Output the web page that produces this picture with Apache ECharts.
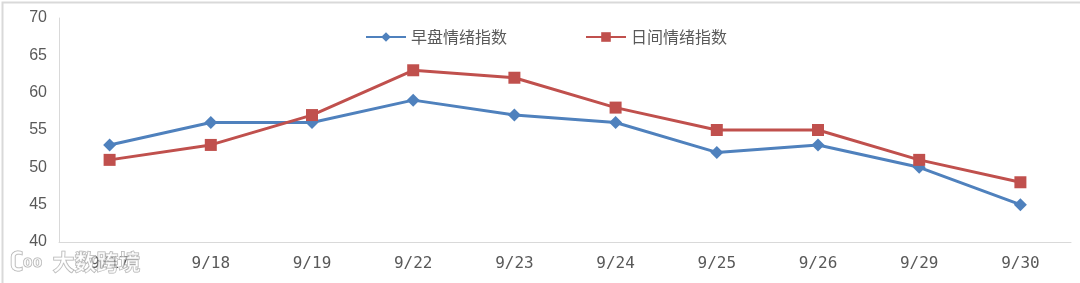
<!DOCTYPE html>
<html><head><meta charset="utf-8">
<script src="https://cdn.jsdelivr.net/npm/echarts@6/dist/echarts.min.js"></script>
<style>html,body{margin:0;padding:0;background:#fff}#c{width:1080px;height:283px}</style>
</head><body><div id="c"></div>
<script>
const categories = ['9/17','9/18','9/19','9/22','9/23','9/24','9/25','9/26','9/29','9/30'];
const morningName = '早盘情绪指数';
const morning = [53,56,56,59,57,56,52,53,50,45];
const dayName = '日间情绪指数';
const day = [51,53,57,63,62,58,55,55,51,48];
const yTicks = {min:40, max:70, interval:5};

const chart = echarts.init(document.getElementById('c'));
const font = '"Microsoft YaHei","Noto Sans CJK SC",sans-serif';
chart.setOption({
  animation:false,
  backgroundColor:'#fff',
  grid:{left:59, right:9, top:18, bottom:41},
  legend:{
    top:24, left:360, itemGap:78, itemWidth:40, itemHeight:12,
    textStyle:{color:'#595959', fontSize:16, fontFamily:font},
    data:[morningName, dayName]
  },
  xAxis:{
    type:'category', data:categories, boundaryGap:true,
    axisLine:{lineStyle:{color:'#d9d9d9', width:1}},
    axisTick:{show:false},
    axisLabel:{color:'#595959', fontSize:16, margin:14, fontFamily:'"DejaVu Sans Mono",monospace'}
  },
  yAxis:{
    type:'value', min:yTicks.min, max:yTicks.max, interval:yTicks.interval,
    axisLine:{show:true, lineStyle:{color:'#d9d9d9', width:1}},
    axisTick:{show:false},
    splitLine:{show:false},
    axisLabel:{color:'#595959', fontSize:16, margin:12, fontFamily:'"Liberation Sans",Arial,sans-serif'}
  },
  series:[
    {name:morningName, type:'line', data:morning, symbol:'diamond', symbolSize:13,
     lineStyle:{color:'#4f81bd', width:3}, itemStyle:{color:'#4f81bd'}},
    {name:dayName, type:'line', data:day, symbol:'rect', symbolSize:12,
     lineStyle:{color:'#c0504d', width:3}, itemStyle:{color:'#c0504d'}}
  ],
  graphic:[
    {type:'rect', left:0, top:0, shape:{width:1079, height:282},
     style:{fill:'none', stroke:'#d9d9d9', lineWidth:2}, silent:true},
    {type:'text', left:52, top:250, z:100,
     style:{text:'大数跨境', fill:'rgba(255,255,255,0.55)', stroke:'rgba(150,150,150,0.8)', lineWidth:1,
            font:'bold 22px "Noto Sans CJK SC",sans-serif'}},
    {type:'text', left:10, top:250, z:100,
     style:{text:'ʗ₀₀', fill:'rgba(255,255,255,0.55)', stroke:'rgba(150,150,150,0.8)', lineWidth:1,
            font:'bold 22px "DejaVu Sans",sans-serif'}}
  ]
});
</script></body></html>
